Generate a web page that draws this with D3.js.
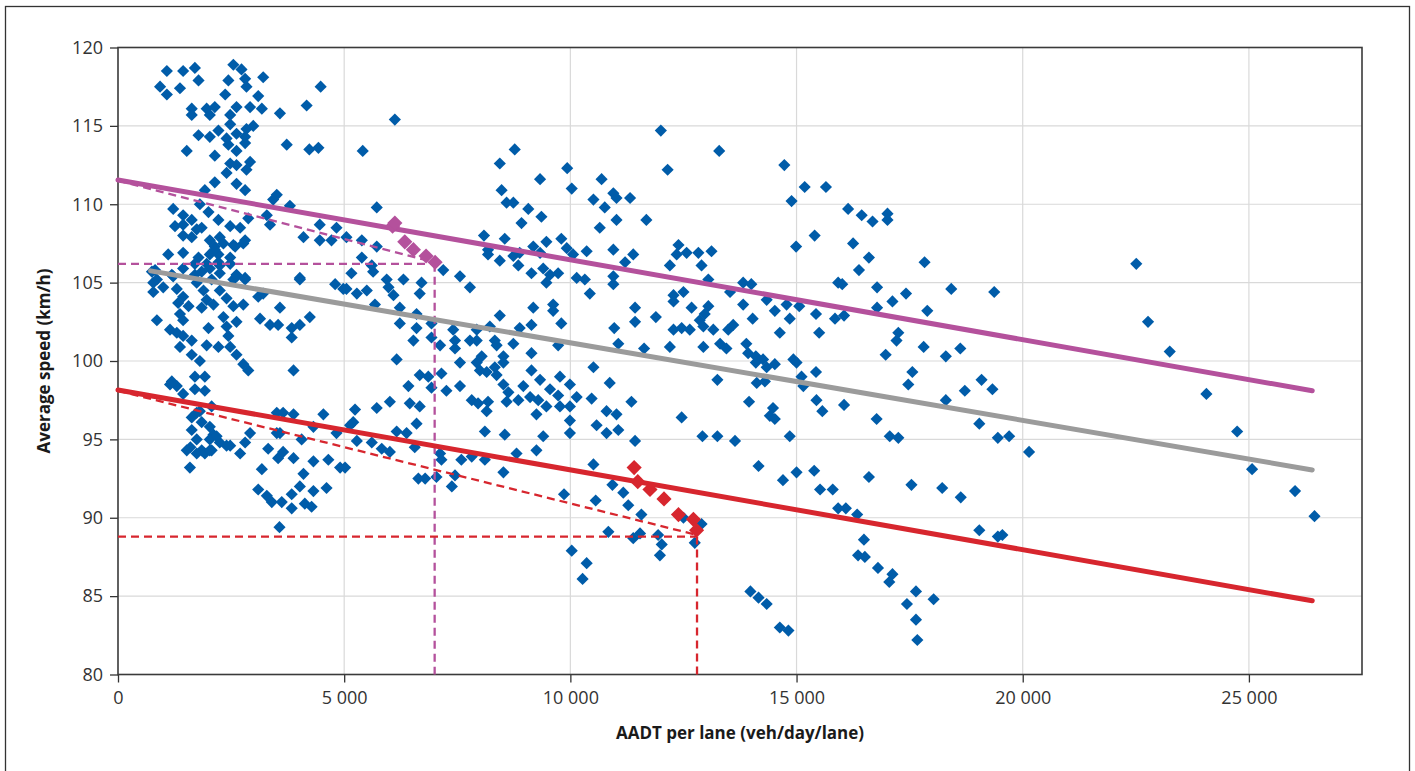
<!DOCTYPE html>
<html>
<head>
<meta charset="utf-8">
<script src="https://d3js.org/d3.v7.min.js"></script>
<style>
  body { margin: 0; background: #fff; }
  text { font-family: "Open Sans", "Noto Sans", sans-serif; }
</style>
</head>
<body>
<script>
// ---- data ----
var xTicks = [0, 5000, 10000, 15000, 20000, 25000];
var yTicks = [80, 85, 90, 95, 100, 105, 110, 115, 120];

// [AADT per lane, average speed]
var sites = [
  [1080,118.5],[1440,118.5],[1700,118.7],[930,117.5],[1080,117.0],[1370,117.4],[1780,117.9],[2550,118.9],[2730,118.6],[2810,118.0],
  [2840,117.5],[2440,117.9],[3210,118.1],[3100,116.9],[2370,117.0],[3180,116.1],[2920,116.2],[2620,116.2],[2480,115.7],[1630,116.1],
  [1630,115.7],[1960,116.1],[2030,115.7],[2140,116.2],[3580,115.8],[4170,116.3],[2480,115.1],[2840,114.8],[2990,115.0],[1780,114.4],
  [2030,114.3],[2220,114.7],[2400,114.2],[2620,114.5],[2810,114.3],[2440,113.8],[2810,113.9],[1520,113.4],[2140,113.1],[2620,113.4],
  [3730,113.8],[2480,112.6],[2620,112.5],[2920,112.7],[2840,112.2],[2400,112.0],[2140,111.4],[2620,111.3],[2810,110.9],[1920,110.9],
  [3510,110.6],[3430,110.3],[3800,109.9],[1220,109.7],[1440,109.3],[1810,110.0],[2000,109.5],[2220,109.0],[1260,108.6],[1440,108.7],
  [1630,109.0],[1740,108.4],[1850,108.5],[2480,108.6],[2700,108.5],[2880,109.1],[3290,109.3],[3360,108.7],[4100,107.9],[1440,108.0],
  [1630,107.9],[2030,107.7],[2250,107.9],[2810,107.7],[1110,106.8],[1440,106.9],[1780,106.6],[2030,106.8],[2140,107.3],[2220,106.8],
  [2550,107.4],[2480,106.6],[1960,106.2],[2250,106.1],[4020,105.3],[2620,105.5],[2810,105.3],[1190,105.5],[1440,105.9],[1700,105.5],
  [820,105.8],[4480,117.5],[4230,113.5],[4430,113.6],[4460,108.7],[4460,107.7],[4830,108.5],[4720,107.7],[4800,104.9],[4980,104.6],
  [750,105.7],[780,105.0],[780,104.4],[860,105.2],[1000,104.7],[1700,106.2],[1850,105.7],[2030,105.9],[2220,106.3],[2480,106.2],
  [2140,107.1],[2330,107.5],[2770,107.5],[2590,107.3],[1220,105.4],[1300,104.6],[1440,104.1],[1330,103.7],[1560,103.5],[1370,103.0],
  [1440,102.6],[860,102.6],[1150,102.0],[1300,101.8],[1440,101.6],[1630,101.3],[1370,100.9],[1740,105.0],[1890,104.5],[1960,103.9],
  [1850,103.4],[2110,103.6],[2070,105.2],[2250,105.6],[2250,104.5],[2400,104.0],[2550,105.2],[2620,105.4],[2810,105.2],[2770,103.6],
  [2550,103.5],[2330,102.8],[2400,102.2],[2620,102.5],[2000,102.1],[2440,101.6],[1960,101.0],[2220,100.9],[2480,100.9],[2620,100.4],
  [1630,100.4],[1810,100.0],[2770,99.8],[2880,99.4],[3100,104.1],[3210,104.3],[3140,102.7],[3360,102.3],[3580,103.4],[3540,102.3],
  [3840,102.1],[4020,102.3],[4240,102.8],[3840,101.5],[4020,105.2],[3880,99.4],[1190,98.7],[1300,98.4],[1700,99.0],[1920,99.0],
  [1700,98.2],[1920,98.1],[1440,97.9],[2070,97.1],[1740,96.7],[1630,96.4],[1850,96.1],[2030,95.8],[1630,95.6],[1740,95.0],
  [1520,94.3],[1850,94.3],[2070,94.3],[2250,94.8],[2110,95.3],[2030,95.0],[2480,94.6],[1740,94.1],[1920,94.1],[1590,93.2],
  [2700,94.1],[2810,94.8],[2920,95.4],[3320,94.4],[3510,96.7],[3650,96.7],[3880,96.6],[3510,95.4],[3650,94.2],[3880,93.8],
  [3180,93.1],[4100,92.8],[4320,93.6],[4060,95.0],[4320,95.8],[4540,96.6],[1150,98.5],[1810,96.8],[1600,94.5],[2030,94.3],
  [2180,95.2],[2400,94.6],[3580,95.4],[4830,95.4],[3540,93.8],[4650,93.7],[4910,93.2],[5020,93.2],[3100,91.8],[3290,91.4],
  [3400,91.0],[3620,91.0],[3840,91.5],[3840,90.6],[4020,92.0],[4130,90.9],[4280,90.7],[4320,91.7],[4610,91.9],[3570,89.4],
  [5130,95.9],
  [6120,115.4],[5410,113.4],[8440,112.6],[8770,113.5],[9930,112.3],[9330,111.6],[10690,111.6],[8480,110.9],[10030,111.0],[10950,110.7],
  [10510,110.3],[11320,110.4],[8590,110.1],[8740,110.1],[9070,109.7],[9360,109.2],[8920,108.8],[10760,109.8],[11020,109.0],[10650,108.5],
  [5720,109.8],[8090,108.0],[8550,107.8],[9470,107.6],[9800,107.8],[8180,107.1],[8180,106.8],[8440,106.4],[8740,106.7],[8880,106.9],
  [8850,106.1],[9180,107.3],[9330,106.9],[9920,107.2],[10060,106.8],[10360,107.0],[10950,107.1],[11390,106.8],[11210,106.3],[9400,105.9],
  [9140,105.6],[9550,105.5],[9730,105.6],[9470,105.0],[10140,105.3],[10320,105.2],[10430,104.3],[10950,105.4],[10950,104.9],[5390,106.6],
  [5720,107.3],[5390,107.7],[5050,107.9],[5160,105.6],[5050,104.6],[5280,104.3],[5500,104.5],[5640,105.7],[5940,105.2],[5980,104.7],
  [6090,104.2],[6310,105.2],[6710,105.0],[6670,104.3],[7190,105.8],[7560,105.4],[7780,104.7],[5610,106.1],[5680,103.6],[6230,103.4],
  [6230,102.4],[6600,103.0],[6600,102.1],[6930,102.4],[6530,101.3],[6930,101.5],[7120,101.0],[7410,102.0],[7450,101.3],[7450,100.8],
  [7780,101.3],[7930,101.3],[7930,102.0],[8220,102.2],[8440,102.9],[8330,101.3],[8370,101.0],[8740,101.1],[8880,102.1],[9140,102.3],
  [9180,103.4],[9620,103.6],[9620,103.2],[9800,102.4],[9730,101.0],[9140,100.5],[6160,100.1],[6670,99.1],[6860,99.0],[6420,98.4],
  [6930,98.3],[7150,99.2],[7260,98.1],[7560,99.9],[7560,98.4],[7930,99.9],[8040,100.3],[8000,99.4],[8150,99.3],[8330,99.6],
  [8370,99.1],[8520,100.3],[8520,99.9],[8520,98.5],[8630,98.0],[7820,97.5],[7960,97.3],[8180,97.4],[8150,96.8],[8590,97.4],
  [8850,97.5],[8960,98.4],[9110,97.7],[9290,97.5],[9250,96.6],[9140,99.4],[9330,98.8],[9550,98.2],[9730,97.8],[9770,99.0],
  [9990,98.5],[10140,97.7],[9990,97.1],[9770,97.1],[9470,97.1],[9990,96.2],[9990,95.4],[9400,95.2],[8550,95.3],[8110,95.5],
  [6600,96.0],[6450,97.3],[6670,97.1],[6010,97.4],[5720,97.0],[5240,96.9],[5200,96.1],[6160,95.5],[6380,95.4],[5280,94.9],
  [5610,94.8],[5830,94.4],[6010,94.2],[6560,94.5],[7120,94.1],[7150,93.7],[7590,93.7],[7820,93.9],[8110,93.7],[8520,92.9],
  [8810,94.1],[9250,94.3],[6640,92.5],[6790,92.5],[7040,92.6],[7380,92.0],[7450,92.7],[9860,91.5],[10510,93.4],[10930,92.1],
  [11170,91.6],[10510,99.6],[10870,98.6],[11020,96.6],[10800,96.8],[10580,95.9],[10800,95.4],[11060,95.6],[10470,97.6],[11350,97.4],
  [11430,94.9],[11430,103.4],[11430,102.5],[10970,102.1],[11060,101.1],
  [12000,114.7],[13290,113.4],[12150,112.2],[14730,112.5],[15180,111.1],[15650,111.1],[14890,110.2],[11680,109.0],[15400,108.0],[14990,107.3],
  [12390,107.4],[12350,106.8],[12570,106.9],[12830,106.9],[13120,107.0],[12200,106.1],[12900,106.1],[11020,110.4],[13050,105.2],[13820,105.0],
  [14000,104.9],[13530,104.4],[14340,103.9],[14780,103.6],[15060,103.5],[15430,103.0],[15920,105.0],[14520,103.2],[14850,102.7],[14030,102.7],
  [13820,103.6],[12280,104.2],[12500,104.4],[12280,103.8],[12680,103.4],[13050,103.5],[12970,103.0],[13600,102.3],[13490,102.0],[12860,102.6],
  [12940,102.2],[13160,102.0],[12640,102.0],[12460,102.1],[12280,102.0],[11890,102.8],[14630,101.8],[15500,101.8],[15850,102.7],[11630,100.8],
  [12200,100.9],[12940,100.9],[13310,101.1],[13450,100.8],[13890,101.1],[13930,100.5],[14100,100.3],[14100,99.9],[14260,100.1],[14340,99.6],
  [14520,99.8],[14120,98.6],[14300,98.7],[14930,100.1],[15000,99.9],[15110,99.0],[15150,98.4],[15430,99.3],[15440,97.5],[15570,96.8],
  [13950,97.4],[14480,97.0],[14410,96.5],[14520,96.3],[13250,98.8],[12460,96.4],[12920,95.2],[13250,95.2],[13640,94.9],[14850,95.2],
  [14160,93.3],[14700,92.4],[15000,92.9],[15390,93.0],[15520,91.8],[15800,91.8],[11280,90.8],[11570,90.2],[10560,91.1],[12500,90.0],
  [12900,89.6],[10840,89.1],[11390,88.7],[11540,89.0],[11940,88.9],[12020,88.3],[11980,87.6],[12750,88.4],[10030,87.9],[10360,87.1],
  [10270,86.1],[13980,85.3],[14160,84.9],[14340,84.5],[14630,83.0],[14820,82.8],
  [16140,109.7],[16440,109.3],[16680,108.9],[17010,109.4],[17010,109.0],[16250,107.5],[16600,106.6],[16380,105.8],[17830,106.3],[16010,104.9],
  [16780,104.7],[17420,104.3],[17120,103.8],[18420,104.6],[19370,104.4],[16780,103.4],[17890,103.2],[16050,102.9],[17250,101.8],[17210,101.3],
  [16970,100.4],[17810,100.9],[18300,100.3],[18620,100.8],[17560,99.3],[17470,98.5],[19090,98.8],[19330,98.2],[18720,98.1],[18300,97.5],
  [16050,97.2],[16770,96.3],[19040,96.0],[17060,95.2],[17250,95.1],[19450,95.1],[19700,95.2],[20140,94.2],[16600,92.6],[17540,92.1],
  [18220,91.9],[18630,91.3],[15920,90.6],[16090,90.6],[16340,90.2],[19040,89.2],[19450,88.8],[19550,88.9],[16490,88.6],[16360,87.6],
  [16510,87.5],[16800,86.8],[17120,86.4],[17050,85.9],[17640,85.3],[18030,84.8],[17440,84.5],[17640,83.5],[17670,82.2],
  [22510,106.2],[22770,102.5],[23250,100.6],[24060,97.9],[24740,95.5],[25070,93.1],[26020,91.7],[26450,90.1]
];

// highlighted sites
var upperPoints = [[6070,108.6],[6120,108.8],[6340,107.6],[6530,107.1],[6810,106.7],[7010,106.3]];
var lowerPoints = [[11410,93.2],[11490,92.3],[11760,91.8],[12070,91.2],[12390,90.2],[12720,89.9],[12790,89.2]];

// trend lines
var upperTrend = [[0,111.55],[26400,98.1]];
var meanTrend  = [[720,105.75],[26400,93.05]];
var lowerTrend = [[0,98.15],[26400,84.7]];

// dashed guides
var upperGuide = [[0,111.5],[7000,106.3]];
var lowerGuide = [[0,98.1],[12800,88.9]];
var upperCutoff = [7000, 106.2];
var lowerCutoff = [12800, 88.8];

// ---- chart ----
var W = 1415, H = 771;
var mLeft = 118, mTop = 47.5, mRight = 1362, mBottom = 674.5;

var blue = "#005ca9", purple = "#b4519c", red = "#d7262e", grey = "#9b9b9b";

var svg = d3.select("body").append("svg")
    .attr("width", W).attr("height", H);

// outer frame
svg.append("rect")
    .attr("x", 5.5).attr("y", 6.5)
    .attr("width", 1404).attr("height", 800)
    .attr("fill", "none").attr("stroke", "#333").attr("stroke-width", 1.3);

var x = d3.scaleLinear().domain([0, 27500]).range([mLeft, mRight]);
var y = d3.scaleLinear().domain([80, 120]).range([mBottom, mTop]);

var fmt = d3.formatLocale({decimal: ".", thousands: " ", grouping: [3], currency: ["", ""]}).format(",");

// gridlines
svg.append("g").selectAll("line").data(yTicks.slice(1)).join("line")
    .attr("x1", mLeft).attr("x2", mRight)
    .attr("y1", d => y(d)).attr("y2", d => y(d))
    .attr("stroke", "#d9d9d9").attr("stroke-width", 1.2);
svg.append("g").selectAll("line").data(xTicks.slice(1)).join("line")
    .attr("x1", d => x(d)).attr("x2", d => x(d))
    .attr("y1", mTop).attr("y2", mBottom)
    .attr("stroke", "#d9d9d9").attr("stroke-width", 1.2);

// axes
var xAxis = svg.append("g")
    .attr("transform", "translate(0," + mBottom + ")")
    .call(d3.axisBottom(x).tickValues(xTicks).tickFormat(fmt).tickSizeInner(8).tickSizeOuter(0).tickPadding(9));
var yAxis = svg.append("g")
    .attr("transform", "translate(" + mLeft + ",0)")
    .call(d3.axisLeft(y).tickValues(yTicks).tickSizeInner(8).tickSizeOuter(0).tickPadding(7));
[xAxis, yAxis].forEach(function (g) {
  g.select(".domain").remove();
  g.selectAll("line").attr("stroke", "#333").attr("stroke-width", 1.3);
  g.selectAll("text").attr("fill", "#333").style("font-size", "18px")
    .style("font-family", "'Open Sans', 'Noto Sans', sans-serif");
});

// plot box
svg.append("rect")
    .attr("x", mLeft).attr("y", mTop)
    .attr("width", mRight - mLeft).attr("height", mBottom - mTop)
    .attr("fill", "none").attr("stroke", "#3a3a3a").attr("stroke-width", 1.6);

var line = d3.line().x(d => x(d[0])).y(d => y(d[1]));

// blue sites
var diamond = d3.symbol().type(d3.symbolSquare).size(74);
svg.append("g").selectAll("path").data(sites).join("path")
    .attr("d", diamond)
    .attr("transform", d => "translate(" + x(d[0]) + "," + y(d[1]) + ") rotate(45)")
    .attr("fill", blue);

// dashed guides
function guides(slope, cut, color) {
  var g = svg.append("g").attr("fill", "none").attr("stroke", color)
      .attr("stroke-width", 2.3).attr("stroke-dasharray", "8,5");
  g.append("path").attr("d", line(slope));
  g.append("path").attr("d", line([[0, cut[1]], [cut[0], cut[1]]]));
  g.append("path").attr("d", line([[cut[0], cut[1]], [cut[0], 80]]));
}
guides(upperGuide, upperCutoff, purple);
guides(lowerGuide, lowerCutoff, red);

// trend lines
[[upperTrend, purple], [meanTrend, grey], [lowerTrend, red]].forEach(function (t) {
  svg.append("path").attr("d", line(t[0]))
      .attr("fill", "none").attr("stroke", t[1])
      .attr("stroke-width", 5).attr("stroke-linecap", "round");
});

// highlighted sites
var bigDiamond = d3.symbol().type(d3.symbolSquare).size(115);
[[upperPoints, purple], [lowerPoints, red]].forEach(function (p) {
  svg.append("g").selectAll("path").data(p[0]).join("path")
      .attr("d", bigDiamond)
      .attr("transform", d => "translate(" + x(d[0]) + "," + y(d[1]) + ") rotate(45)")
      .attr("fill", p[1]);
});

// axis titles
svg.append("text")
    .attr("x", (mLeft + mRight) / 2).attr("y", 739)
    .attr("text-anchor", "middle")
    .style("font-size", "17px").style("font-weight", "bold").attr("fill", "#1a1a1a")
    .text("AADT per lane (veh/day/lane)");
svg.append("text")
    .attr("transform", "translate(50," + ((mTop + mBottom) / 2) + ") rotate(-90)")
    .attr("text-anchor", "middle")
    .style("font-size", "17px").style("font-weight", "bold").attr("fill", "#1a1a1a")
    .text("Average speed (km/h)");
</script>
</body>
</html>
